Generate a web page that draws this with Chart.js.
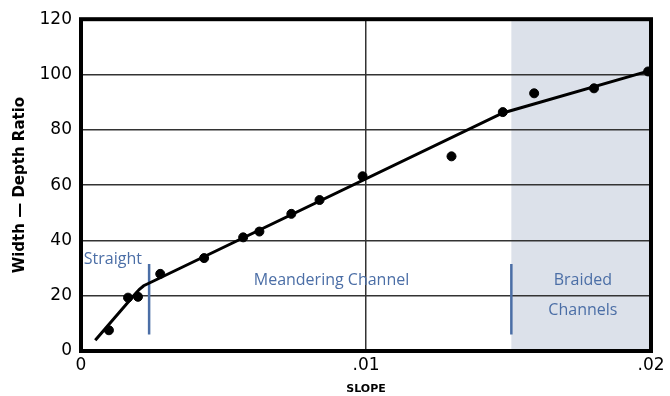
<!DOCTYPE html>
<html>
<head>
<meta charset="utf-8">
<script src="https://cdn.jsdelivr.net/npm/chart.js@4"></script>
<style>
  html, body { margin: 0; padding: 0; background: #fff; }
  #wrap { width: 670px; height: 396px; }
</style>
</head>
<body>
<div id="wrap"><canvas id="chart"></canvas></div>
<script>
// measured points (slope vs width-depth ratio)
const SLOPE = [0.00098, 0.00165, 0.0020, 0.00278, 0.00432, 0.00569, 0.00626, 0.00738, 0.00837, 0.00988, 0.0130, 0.0148, 0.0159, 0.0180, 0.0199];
const RATIO = [7.5, 19.3, 19.6, 27.9, 33.6, 41.1, 43.2, 49.6, 54.6, 63.2, 70.4, 86.4, 93.2, 95.0, 101.1];

// hand-drawn trend line
const FIT_SLOPE = [0.0005, 0.0019, 0.00205, 0.0022, 0.0024, 0.0148, 0.0199];
const FIT_RATIO = [3.9, 20.6, 22.3, 23.6, 24.6, 86.1, 101.2];

// x ticks
const X_TICKS = [0, 0.01, 0.02];
const X_LABELS = ["0", ".01", ".02"];

// region dividers + braided shading
const STRAIGHT_X = 0.00239;
const BRAIDED_X = 0.0151;
const DIVIDER_Y = [6, 31.5];

// region labels: [text, x, y]
const REGION_LABELS = [
  ["Straight", 0.00112, 33.2],
  ["Meandering Channel", 0.00879, 25.4],
  ["Braided", 0.01761, 25.4],
  ["Channels", 0.01761, 14.6],
];

const BLUE = "#4b6ea6";

const toPts = (xs, ys) => xs.map((x, i) => ({ x, y: ys[i] }));

const shadePlugin = {
  id: "shade",
  beforeDraw(chart) {
    const { ctx, chartArea: a, scales: { x } } = chart;
    const x0 = x.getPixelForValue(BRAIDED_X);
    ctx.save();
    ctx.fillStyle = "#dce1ea";
    ctx.fillRect(x0, a.top, a.right - x0, a.bottom - a.top);
    ctx.restore();
  },
  afterDatasetsDraw(chart) {
    const { ctx, chartArea: a, scales: { x, y } } = chart;
    ctx.save();
    // region labels
    ctx.fillStyle = BLUE;
    ctx.font = "16px 'Open Sans'";
    ctx.textAlign = "center";
    ctx.textBaseline = "middle";
    REGION_LABELS.forEach(([t, vx, vy]) => {
      ctx.fillText(t, x.getPixelForValue(vx), y.getPixelForValue(vy));
    });
    // frame
    ctx.strokeStyle = "#000";
    ctx.lineWidth = 4;
    ctx.strokeRect(a.left, a.top, a.right - a.left, a.bottom - a.top);
    ctx.restore();
  },
};

new Chart(document.getElementById("chart"), {
  type: "scatter",
  data: {
    datasets: [
      {
        data: toPts(SLOPE, RATIO),
        backgroundColor: "#000",
        borderColor: "#000",
        pointRadius: 4.5,
      },
      {
        data: toPts(FIT_SLOPE, FIT_RATIO),
        showLine: true,
        borderColor: "#000",
        borderWidth: 3,
        pointRadius: 0,
        tension: 0,
      },
      {
        data: toPts([STRAIGHT_X, STRAIGHT_X], DIVIDER_Y),
        showLine: true,
        borderColor: BLUE,
        borderWidth: 2.5,
        pointRadius: 0,
      },
      {
        data: toPts([BRAIDED_X, BRAIDED_X], DIVIDER_Y),
        showLine: true,
        borderColor: BLUE,
        borderWidth: 2.5,
        pointRadius: 0,
      },
    ],
  },
  options: {
    responsive: true,
    maintainAspectRatio: false,
    animation: false,
    layout: { padding: { left: 0, top: 16, right: 19, bottom: 0 } },
    plugins: { legend: { display: false }, tooltip: { enabled: false } },
    scales: {
      x: {
        type: "linear",
        min: 0,
        max: 0.02,
        afterBuildTicks: (s) => { s.ticks = X_TICKS.map(v => ({ value: v })); },
        afterFit: (s) => { s.height = 45; },
        ticks: {
          color: "#000",
          font: { family: "DejaVu Sans", size: 17 },
          padding: 4,
          maxRotation: 0,
          callback: (v) => X_LABELS[X_TICKS.indexOf(v)],
        },
        grid: { color: "#333", lineWidth: 1.5, drawTicks: false },
        border: { display: false },
        title: {
          display: true,
          text: "SLOPE",
          color: "#000",
          font: { family: "DejaVu Sans", size: 11, weight: "bold" },
          padding: { top: 0, bottom: 0 },
        },
      },
      y: {
        min: 0,
        max: 120,
        afterFit: (s) => { s.width = 81; },
        ticks: {
          stepSize: 20,
          color: "#000",
          font: { family: "DejaVu Sans", size: 17 },
          padding: 9,
        },
        grid: { color: "#333", lineWidth: 1.5, drawTicks: false },
        border: { display: false },
        title: {
          display: true,
          text: "Width — Depth Ratio",
          color: "#000",
          font: { family: "DejaVu Sans", size: 15, weight: "bold" },
          padding: { top: 11, bottom: 0 },
        },
      },
    },
  },
  plugins: [shadePlugin],
});
</script>
</body>
</html>
